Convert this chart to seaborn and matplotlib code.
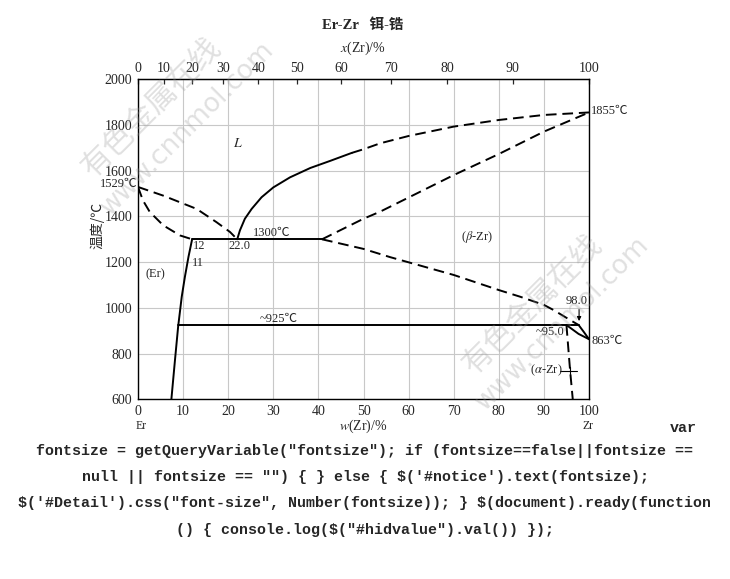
import numpy as np
import pandas as pd
import matplotlib
matplotlib.use("Agg")
import matplotlib.pyplot as plt
import seaborn as sns

# ---------------- data (w(Zr)/% , T/°C) ----------------
er_solvus_w = [12.0, 11.2, 10.4, 9.7, 8.9, 8.2, 7.4]
er_solvus_T = [1300, 1224, 1136, 1049, 918, 772, 600]

er_solidus_w = [0.0, 1.1, 2.6, 5.6, 9.3, 12.0]
er_solidus_T = [1529, 1470, 1420, 1361, 1317, 1300]

liq_left_w = [0.0, 5.6, 13.0, 17.4, 20.4, 22.0]
liq_left_T = [1529, 1491, 1433, 1375, 1332, 1300]

liq_right_solid_w = [22.0, 22.6, 23.7, 25.2, 27.4, 30.0, 33.7, 38.2, 42.6, 46.3, 47.4]
liq_right_solid_T = [1300, 1339, 1390, 1433, 1484, 1527, 1571, 1612, 1643, 1670, 1678]

liq_right_dash_w = [47.4, 50.0, 53.7, 60.0, 70.0, 80.0, 90.0, 100.0]
liq_right_dash_T = [1678, 1694, 1720, 1752, 1793, 1822, 1844, 1855]

beta_solidus_w = [40.8, 50.0, 53.7, 70.0, 80.0, 90.0, 100.0]
beta_solidus_T = [1300, 1390, 1421, 1581, 1673, 1771, 1855]

beta_solvus_w = [40.8, 50.0, 55.9, 70.0, 80.0, 84.7, 90.0, 92.1, 95.8, 97.7]
beta_solvus_T = [1300, 1258, 1222, 1144, 1078, 1049, 1013, 991, 947, 925]

beta_transus_w = [97.7, 98.8, 100.0]
beta_transus_T = [925, 896, 863]

alpha_beta_w = [95.0, 97.7, 100.0]
alpha_beta_T = [925, 886, 863]

alpha_solvus_w = [95.0, 95.8, 96.4]
alpha_solvus_T = [925, 728, 600]

eutectic_w = [12.0, 40.8]
eutectic_T = [1300, 1300]

eutectoid_w = [8.85, 97.7]
eutectoid_T = [925, 925]

y_ticks = [600, 800, 1000, 1200, 1400, 1600, 1800, 2000]
x_ticks = [0, 10, 20, 30, 40, 50, 60, 70, 80, 90, 100]
at_ticks = [0, 10, 20, 30, 40, 50, 60, 70, 80, 90, 100]

M_ER, M_ZR = 167.26, 91.224

js_lines = [
    'fontsize = getQueryVariable("fontsize"); if (fontsize==false||fontsize ==',
    'null || fontsize == "") { } else { $(\'#notice\').text(fontsize);',
    '$(\'#Detail\').css("font-size", Number(fontsize)); } $(document).ready(function',
    '() { console.log($("#hidvalue").val()) });',
]

# ---------------- style ----------------
sns.set_style("white")
plt.rcParams["font.family"] = ["Liberation Serif", "Noto Sans CJK SC", "DejaVu Sans"]
plt.rcParams["mathtext.fontset"] = "stix"
plt.rcParams["lines.dashed_pattern"] = [5.5, 3.0]

W, H = 730, 579
fig = plt.figure(figsize=(W / 100, H / 100), dpi=100)
fig.patch.set_facecolor("white")


def fx(px):
    return px / W


def fy(py):
    return 1 - py / H


ax = fig.add_axes([fx(138), fy(399.3), (589 - 138) / W, 320 / H])
ax.set_xlim(0, 100)
ax.set_ylim(600, 2000)
ax.set_xticks(x_ticks)
ax.set_yticks(y_ticks)
ax.grid(True, color="#c8c8c8", lw=0.8)
ax.set_axisbelow(True)
ax.tick_params(axis="both", length=0, labelsize=10, pad=4)
for s in ax.spines.values():
    s.set_color("black")
    s.set_linewidth(1.0)


def wt2at(w):
    w = np.asarray(w, dtype=float)
    with np.errstate(divide="ignore", invalid="ignore"):
        a = w / M_ZR
        b = (100 - w) / M_ER
        return 100 * a / (a + b)


def at2wt(x):
    x = np.asarray(x, dtype=float)
    with np.errstate(divide="ignore", invalid="ignore"):
        a = x * M_ZR
        b = (100 - x) * M_ER
        return 100 * a / (a + b)


sec = ax.secondary_xaxis("top", functions=(wt2at, at2wt))
sec.set_xticks(at_ticks)
sec.tick_params(direction="in", length=3.5, width=0.9, labelsize=10, pad=3)

curves = [
    (er_solvus_w, er_solvus_T, "-"),
    (er_solidus_w, er_solidus_T, "--"),
    (liq_left_w, liq_left_T, "--"),
    (liq_right_solid_w, liq_right_solid_T, "-"),
    (liq_right_dash_w, liq_right_dash_T, "--"),
    (beta_solidus_w, beta_solidus_T, "--"),
    (beta_solvus_w, beta_solvus_T, "--"),
    (beta_transus_w, beta_transus_T, "-"),
    (alpha_beta_w, alpha_beta_T, "-"),
    (alpha_solvus_w, alpha_solvus_T, "--"),
    (eutectic_w, eutectic_T, "-"),
    (eutectoid_w, eutectoid_T, "-"),
]
for w, T, ls in curves:
    df = pd.DataFrame({"w": w, "T": T})
    sns.lineplot(data=df, x="w", y="T", ax=ax, color="black", linestyle=ls,
                 lw=1.4, sort=False, estimator=None, zorder=3)
ax.set_xlabel("")
ax.set_ylabel("")

# ---------------- annotations inside ----------------
fs = 9
ax.text(22.2, 1720, "$L$", fontsize=10, ha="center", va="center")
ax.text(12.1, 1272, "12", fontsize=fs, ha="left", va="center")
ax.text(22.6, 1272, "22.0", fontsize=fs, ha="center", va="center")
ax.text(11.9, 1198, "11", fontsize=fs, ha="left", va="center")
ax.text(29.6, 1326, "1300\u2103", fontsize=fs, ha="center", va="center")
ax.text(3.8, 1148, "(Er)", fontsize=fs, ha="center", va="center")
ax.text(31.1, 950, "~925\u2103", fontsize=fs, ha="center", va="center")
ax.text(75.1, 1311, r"($\beta$-Zr)", fontsize=fs, ha="center", va="center")
ax.text(97.3, 1030, "98.0", fontsize=fs, ha="center", va="center")
ax.annotate("", xy=(97.8, 930), xytext=(97.8, 1005),
            arrowprops=dict(arrowstyle="-|>", color="black", lw=0.8,
                            mutation_scale=6))
ax.text(94.6, 893, "~95.0", fontsize=fs, ha="right", va="center")
ax.text(90.6, 726, r"($\alpha$-Zr)", fontsize=fs, ha="center", va="center")
ax.plot([93.6, 97.4], [726, 726], color="black", lw=0.8)
ax.plot([95.8, 95.8], [712, 740], color="black", lw=0.8)

# labels outside the axes
fig.text(fx(137), fy(184), "1529\u2103", fontsize=fs, ha="right", va="center")
fig.text(fx(591), fy(110.7), "1855\u2103", fontsize=fs, ha="left", va="center")
fig.text(fx(591), fy(341), "863\u2103", fontsize=fs, ha="left", va="center")

fig.text(fx(363), fy(25), "Er-Zr   \u94d2-\u9506", fontsize=10.5, fontweight="bold",
         ha="center", va="center")
fig.text(fx(363), fy(48), "$x$(Zr)/%", fontsize=10, ha="center", va="center")
fig.text(fx(141), fy(426), "Er", fontsize=8.5, ha="center", va="center")
fig.text(fx(363), fy(426), "$w$(Zr)/%", fontsize=10, ha="center", va="center")
fig.text(fx(588), fy(426), "Zr", fontsize=8.5, ha="center", va="center")
fig.text(fx(97), fy(225), "\u6e29\u5ea6/\u2103", fontsize=10, rotation=90,
         ha="center", va="center", family=["Noto Sans CJK SC", "DejaVu Sans"])

# watermark
wm = dict(color="#9a9a9a", alpha=0.3, rotation=45, ha="center", va="center",
          zorder=0.5)
fig.text(fx(152), fy(108), "\u6709\u8272\u91d1\u5c5e\u5728\u7ebf", fontsize=22,
         family=["Noto Sans CJK SC"], **wm)
fig.text(fx(188), fy(128), "www.cnnmol.com", fontsize=19,
         family=["DejaVu Sans"], **wm)
fig.text(fx(533), fy(305), "\u6709\u8272\u91d1\u5c5e\u5728\u7ebf", fontsize=22,
         family=["Noto Sans CJK SC"], **wm)
fig.text(fx(563), fy(323), "www.cnnmol.com", fontsize=19,
         family=["DejaVu Sans"], **wm)

# page text below
mono = dict(family=["Liberation Mono", "DejaVu Sans Mono"], fontweight="bold",
            fontsize=10.8, usetex=False, parse_math=False)
fig.text(fx(683), fy(428), "var", ha="center", va="center", **mono)
for i, line in enumerate(js_lines):
    fig.text(fx(365), fy(450.5 + 26.5 * i), line, ha="center", va="center", **mono)

fig.savefig("out.png", dpi=100, facecolor="white")
